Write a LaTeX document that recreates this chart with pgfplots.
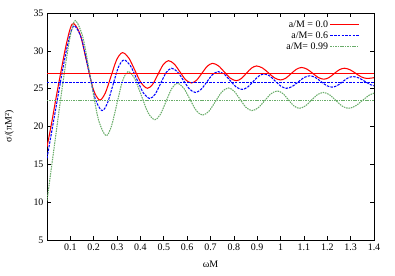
\documentclass[border=0pt]{standalone}
\usepackage{fontspec}
\setmainfont{Liberation Serif}
\usepackage{pgfplots}
\pgfplotsset{compat=1.18}
\definecolor{gg}{RGB}{105,172,105}
\tikzset{
  sred/.style={color=red, line width=1.05pt, solid},
  sblue/.style={color=blue, line width=1.05pt, dash pattern=on 2.5pt off 1.2pt},
  sgreen/.style={color=gg, line width=1.05pt, dash pattern=on 1.5pt off 0.9pt},
}
\begin{document}
\begin{tikzpicture}[font=\fontsize{10}{12}\selectfont]
\begin{axis}[
  scale only axis, width=327bp, height=227bp,
  xmin=0, xmax=1.4, ymin=5, ymax=35,
  xtick={0.1,0.2,0.3,0.4,0.5,0.6,0.7,0.8,0.9,1,1.1,1.2,1.3,1.4},
  ytick={5,10,15,20,25,30,35},
  /pgf/number format/assume math mode=true,
  tick style={black, line width=0.6pt},
  axis line style={line width=0.8pt},
  tick label style={font=\fontsize{10}{12}\selectfont},
  xlabel={ωM}, ylabel={σ/(πM²)},
  xlabel style={yshift=-4bp},
  ylabel style={yshift=13bp},
  legend style={at={(0.965,0.985)}, anchor=north east, draw=none, fill=none,
    font=\fontsize{10}{11}\selectfont, row sep=-1.2pt},
  legend plot pos=right, legend cell align=right,
  legend image code/.code={\draw[#1] (0cm,0.4pt) -- (1cm,0.4pt);},
]
\addlegendimage{sred}
\addlegendentry{a/M = 0.0}
\addlegendimage{sblue}
\addlegendentry{a/M= 0.6}
\addlegendimage{sgreen}
\addlegendentry{a/M= 0.99}
\addplot[sred, smooth, forget plot] coordinates {
(0,17.3)(0.02,20.5)(0.04,24.0)(0.06,27.3)(0.08,30.5)(0.1,33.0)(0.115,33.6)
(0.1425,32.12)(0.17,28.55)(0.1975,24.98)(0.225,23.5)
(0.2495,24.42)(0.274,26.63)(0.2985,28.84)(0.323,29.76)
(0.3498,29.07)(0.3765,27.41)(0.4033,25.74)(0.43,25.05)
(0.4525,25.58)(0.475,26.88)(0.4975,28.17)(0.52,28.7)
(0.5445,28.27)(0.569,27.23)(0.5935,26.18)(0.618,25.75)
(0.6408,26.13)(0.6635,27.05)(0.6863,27.97)(0.709,28.35)
(0.7343,28.01)(0.7595,27.2)(0.7848,26.39)(0.81,26.05)
(0.8318,26.34)(0.8535,27.03)(0.8753,27.71)(0.897,28.0)
(0.9228,27.73)(0.9485,27.08)(0.9743,26.42)(1.0,26.15)
(1.0225,26.39)(1.045,26.98)(1.0675,27.56)(1.09,27.8)
(1.1138,27.57)(1.1375,27.03)(1.1613,26.48)(1.185,26.25)
(1.207,26.46)(1.229,26.98)(1.251,27.49)(1.273,27.7)
(1.2973,27.5)(1.3215,27.03)(1.3458,26.55)(1.37,26.35)(1.4,26.45)
};
\addplot[sblue, smooth, forget plot] coordinates {
(0,15.8)(0.02,19.3)(0.04,22.8)(0.06,26.3)(0.08,29.6)(0.1,32.3)(0.118,33.3)
(0.1473,31.66)(0.1765,27.7)(0.2058,23.74)(0.235,22.1)
(0.2585,23.08)(0.282,25.45)(0.3055,27.82)(0.329,28.8)
(0.3568,28.05)(0.3845,26.25)(0.4123,24.45)(0.44,23.7)
(0.4633,24.29)(0.4865,25.7)(0.5098,27.11)(0.533,27.7)
(0.5585,27.23)(0.584,26.1)(0.6095,24.97)(0.635,24.5)
(0.6595,24.9)(0.684,25.88)(0.7085,26.85)(0.733,27.25)
(0.7585,26.91)(0.784,26.08)(0.8095,25.24)(0.835,24.9)
(0.8588,25.2)(0.8825,25.93)(0.9063,26.65)(0.93,26.95)
(0.9538,26.67)(0.9775,26.0)(1.0013,25.33)(1.025,25.05)
(1.05,25.29)(1.075,25.88)(1.1,26.46)(1.125,26.7)
(1.1488,26.48)(1.1725,25.95)(1.1963,25.42)(1.22,25.2)
(1.2425,25.4)(1.265,25.9)(1.2875,26.4)(1.31,26.6)
(1.335,26.42)(1.36,25.98)(1.385,25.53)(1.4,25.4)
};
\addplot[sgreen, smooth, forget plot] coordinates {
(0,10.2)(0.02,14.8)(0.04,19.4)(0.06,24.0)(0.08,28.3)(0.1,32.0)(0.121,34.0)
(0.1538,31.77)(0.1865,26.4)(0.2193,21.03)(0.252,18.8)
(0.2758,20.04)(0.2995,23.03)(0.3233,26.01)(0.347,27.25)
(0.3755,26.32)(0.404,24.08)(0.4325,21.83)(0.461,20.9)
(0.4853,21.6)(0.5095,23.3)(0.5338,25.0)(0.558,25.7)
(0.585,25.09)(0.612,23.6)(0.639,22.11)(0.666,21.5)
(0.6935,22.03)(0.721,23.3)(0.7485,24.57)(0.776,25.1)
(0.8013,24.66)(0.8265,23.6)(0.8518,22.54)(0.877,22.1)
(0.9043,22.48)(0.9315,23.4)(0.9588,24.32)(0.986,24.7)
(1.0095,24.36)(1.033,23.55)(1.0565,22.74)(1.08,22.4)
(1.1058,22.71)(1.1315,23.45)(1.1573,24.19)(1.183,24.5)
(1.2098,24.19)(1.2365,23.45)(1.2633,22.71)(1.29,22.4)
(1.32,22.7)(1.35,23.43)(1.38,24.15)(1.4,24.4)
};
\addplot[sred, forget plot] coordinates {(0,27.0)(1.4,27.0)};
\addplot[sblue, forget plot] coordinates {(0,25.85)(1.4,25.85)};
\addplot[sgreen, forget plot] coordinates {(0,23.4)(1.4,23.4)};
\end{axis}
\useasboundingbox (-47bp,-36bp) rectangle (348bp,240bp);
\end{tikzpicture}
\end{document}
